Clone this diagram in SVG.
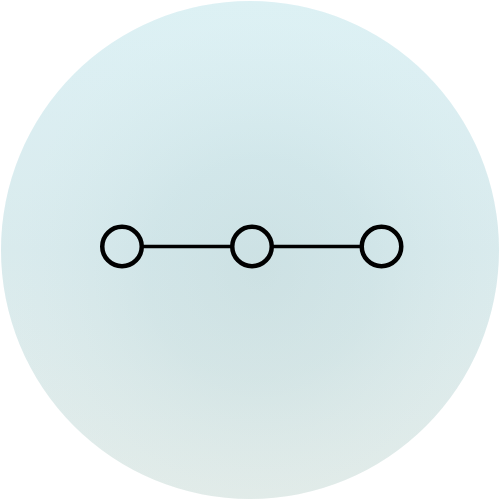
<svg xmlns="http://www.w3.org/2000/svg" width="500" height="500" viewBox="0 0 500 500">
  <defs>
    <linearGradient id="bgLin" x1="0" y1="0" x2="0" y2="1">
      <stop offset="0" stop-color="#d8eff3"/>
      <stop offset="0.5" stop-color="#d4e8eb"/>
      <stop offset="1" stop-color="#dee9e6"/>
    </linearGradient>
    <radialGradient id="bgRad" cx="0.52" cy="0.54" r="0.5">
      <stop offset="0" stop-color="#bed4d6" stop-opacity="0.35"/>
      <stop offset="0.45" stop-color="#c2d8db" stop-opacity="0.2"/>
      <stop offset="1" stop-color="#ffffff" stop-opacity="0.12"/>
    </radialGradient>
    <style>
      .node { fill: none; stroke: #000; stroke-width: 4.5; }
      .edge { stroke: #000; stroke-width: 3.5; fill: none; }
    </style>
  </defs>
  <g id="background">
    <circle cx="250" cy="250" r="249" fill="url(#bgLin)"/>
    <circle cx="250" cy="250" r="249" fill="url(#bgRad)"/>
  </g>
  <g id="connectors">
    <line class="edge" x1="142" y1="246.5" x2="232" y2="246.5"/>
    <line class="edge" x1="272" y1="246.5" x2="362" y2="246.5"/>
  </g>
  <g id="node1"><circle class="node" cx="122" cy="246.5" r="19.75"/></g>
  <g id="node2"><circle class="node" cx="252" cy="246.5" r="19.75"/></g>
  <g id="node3"><circle class="node" cx="381.5" cy="246.5" r="19.75"/></g>
</svg>
